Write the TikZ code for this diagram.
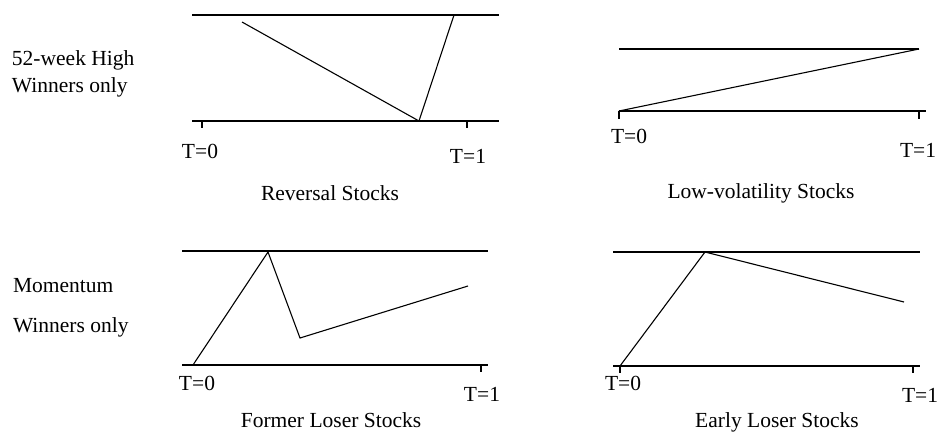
\documentclass[tikz,border=0pt]{standalone}
\usepackage{fontspec}
\setmainfont{Liberation Serif}
\begin{document}
\begin{tikzpicture}[x=1pt,y=-1pt,
  every node/.style={inner sep=0pt,outer sep=0pt,font=\fontsize{21.5}{25}\selectfont},
  axisline/.style={line width=1.9pt},
  tickline/.style={line width=1.6pt},
  pathline/.style={line width=1.1pt,line join=miter},
  lbl/.style={anchor=base},
  lbll/.style={anchor=base west}]
\useasboundingbox (0,0) rectangle (938,432);
% ---------- Panel 1: Reversal Stocks ----------
\draw[axisline] (192,15) -- (499,15);
\draw[axisline] (192,121) -- (499,121);
\draw[tickline] (202,121) -- (202,128);
\draw[tickline] (467,121) -- (467,128);
\coordinate (a1) at (242,22);
\coordinate (a2) at (419,121);
\coordinate (a3) at (454,15);
\draw[pathline] (a1) -- (a2) -- (a3);
\node[lbl] (t0a) at (200,158) {T=0};
\node[lbl] (t1a) at (468,163) {T=1};
\node[lbl] (capa) at (330,200) {Reversal Stocks};
% ---------- Panel 2: Low-volatility Stocks ----------
\draw[axisline] (619,49) -- (919,49);
\draw[axisline] (619,111) -- (926,111);
\draw[tickline] (619,111) -- (619,119);
\draw[tickline] (919,111) -- (919,119);
\coordinate (b1) at (619,111);
\coordinate (b2) at (919,49);
\draw[pathline] (b1) -- (b2);
\node[lbl] (t0b) at (629,143) {T=0};
\node[lbll] (t1b) at (900,157) {T=1};
\node[lbl] (capb) at (761,198) {Low-volatility Stocks};
% ---------- Panel 3: Former Loser Stocks ----------
\draw[axisline] (182,251) -- (488,251);
\draw[axisline] (182,365) -- (488,365);
\draw[tickline] (481,365) -- (481,372);
\coordinate (c1) at (193,365);
\coordinate (c2) at (268,252);
\coordinate (c3) at (300,338);
\coordinate (c4) at (468,286);
\draw[pathline] (c1) -- (c2) -- (c3) -- (c4);
\node[lbl] (t0c) at (197,390) {T=0};
\node[lbl] (t1c) at (482,401) {T=1};
\node[lbl] (capc) at (331,427) {Former Loser Stocks};
% ---------- Panel 4: Early Loser Stocks ----------
\draw[axisline] (613,252) -- (920,252);
\draw[axisline] (613,366) -- (920,366);
\draw[tickline] (620,366) -- (620,373);
\draw[tickline] (913,366) -- (913,373);
\coordinate (d1) at (620,366);
\coordinate (d2) at (705,252);
\coordinate (d3) at (904,302);
\draw[pathline] (d1) -- (d2) -- (d3);
\node[lbl] (t0d) at (623,390) {T=0};
\node[lbl] (t1d) at (920,402) {T=1};
\node[lbl] (capd) at (777,427) {Early Loser Stocks};
% ---------- Row labels ----------
\node[lbll] (r1a) at (12,65) {52-week High};
\node[lbll] (r1b) at (12,92) {Winners only};
\node[lbll] (r2a) at (13,292) {Momentum};
\node[lbll] (r2b) at (13,332) {Winners only};
\end{tikzpicture}
\end{document}
